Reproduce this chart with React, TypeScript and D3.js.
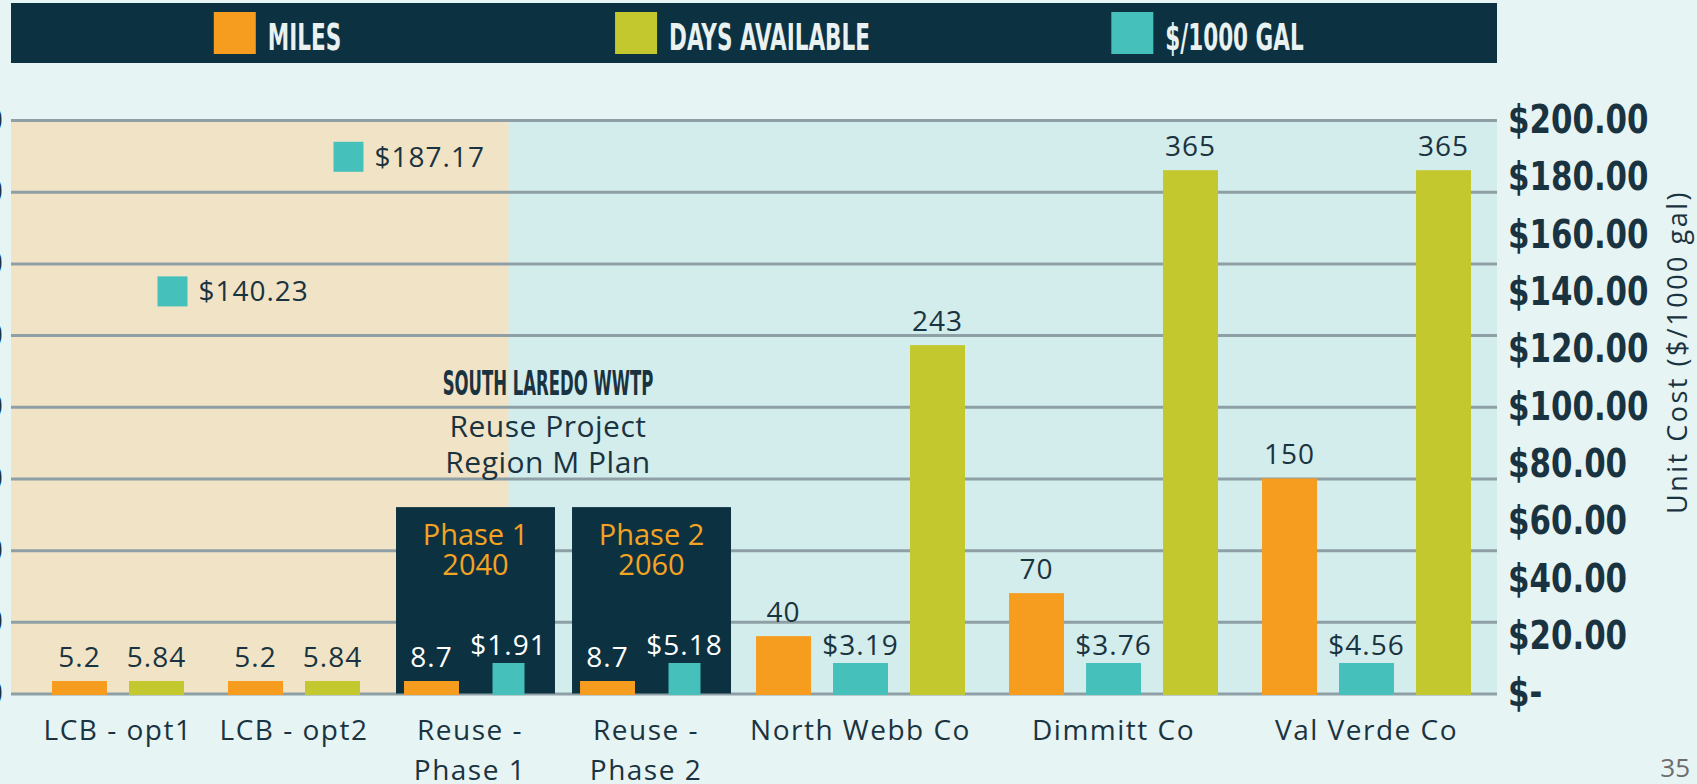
import React, { useEffect, useRef } from 'react';
import * as d3 from 'd3';

// chart data
const categories = ['LCB - opt1', 'LCB - opt2', 'Reuse - Phase 1', 'Reuse - Phase 2', 'North Webb Co', 'Dimmitt Co', 'Val Verde Co'];
const categoryLines = [['LCB - opt1'], ['LCB - opt2'], ['Reuse -', 'Phase 1'], ['Reuse -', 'Phase 2'], ['North Webb Co'], ['Dimmitt Co'], ['Val Verde Co']];
const miles = [5.2, 5.2, 8.7, 8.7, 40, 70, 150];
const daysAvailable: (number | null)[] = [5.84, 5.84, null, null, 243, 365, 365];
const costPer1000Gal = [140.23, 187.17, 1.91, 5.18, 3.19, 3.76, 4.56];

const leftTicks = [0, 50, 100, 150, 200, 250, 300, 350, 400];
const rightTicks = [0, 20, 40, 60, 80, 100, 120, 140, 160, 180, 200];

const legendLabels = ['MILES', 'DAYS AVAILABLE', '$/1000 GAL'];
const phaseBoxes = [
  { category: 'Reuse - Phase 1', lines: ['Phase 1', '2040'] },
  { category: 'Reuse - Phase 2', lines: ['Phase 2', '2060'] },
];
const noteTitle = 'SOUTH LAREDO WWTP';
const noteLines = ['Reuse Project', 'Region M Plan'];
const yRightTitle = 'Unit Cost ($/1000 gal)';
const pageNumber = '35';
const markerThreshold = 100; // costs above this are shown as a marker, not a bar
const phaseBoxTop = 130; // miles-axis level of the top of the phase boxes

const W = 1697;
const H = 784;

const colors = {
  bg: '#e7f4f4',
  plotBg: '#d3ecec',
  beige: '#f1e3c6',
  grid: '#8e9fa5',
  navy: '#0c3242',
  orange: '#f69c1f',
  olive: '#c3c82f',
  teal: '#46c0bb',
  text: '#1a3340',
  phase: '#f5a323',
  legendText: '#e9f1f1',
  page: '#6d6d6d',
};

const condensed = "'Liberation Sans Narrow', 'DejaVu Sans Condensed', 'Arial Narrow', sans-serif";
const sans = "'Open Sans', 'Noto Sans', sans-serif";

const App = () => {
  const svgRef = useRef<SVGSVGElement>(null);

  useEffect(() => {
    const plot = { left: 11, right: 1497, top: 120, base: 693.5 };
    const barsLeft = 52;
    const barsRight = 1471;
    const barUnits = 0.714;
    const groupGap = 0.286;
    const axisSqueeze = 0.88;
    const legendSqueeze = 0.63;
    const noteSqueeze = 0.54;

    const svg = d3.select(svgRef.current);
    svg.selectAll('*').remove();

    const series = [
      { key: 'miles', values: miles as (number | null)[], color: colors.orange, axis: 'left', minH: 14, pad: 14, fmt: (v: number) => String(v) },
      { key: 'cost', values: costPer1000Gal as (number | null)[], color: colors.teal, axis: 'right', minH: 32, pad: 8, fmt: (v: number) => d3.format('$.2f')(v) },
      { key: 'days', values: daysAvailable, color: colors.olive, axis: 'left', minH: 14, pad: 14, fmt: (v: number) => String(v) },
    ];
    const legendSeries = [series[0], series[2], series[1]];

    // lay bars out one unit apart, with a small gap between categories
    type Slot = { cat: number; s: (typeof series)[number]; value: number; pos: number };
    const slots: Slot[] = [];
    const markers: Slot[] = [];
    const groups: { cat: number; start: number; end: number }[] = [];
    let pos = 0;
    categories.forEach((_, i) => {
      const start = pos;
      series.forEach((s) => {
        const v = s.values[i];
        if (v == null) return;
        if (s.key === 'cost' && v > markerThreshold) {
          markers.push({ cat: i, s, value: v, pos: -1 });
          return;
        }
        slots.push({ cat: i, s, value: v, pos });
        pos += 1;
      });
      groups.push({ cat: i, start, end: pos - 1 + barUnits });
      pos += groupGap;
    });
    const lastEnd = groups[groups.length - 1].end;

    const x = d3.scaleLinear().domain([0, lastEnd]).range([barsLeft, barsRight]);
    const unit = x(1) - x(0);
    const barW = unit * barUnits;
    const yLeft = d3.scaleLinear().domain([0, 400]).range([plot.base, plot.top]);
    const yRight = d3.scaleLinear().domain([0, 200]).range([plot.base, plot.top]);
    const yOf = (s: (typeof series)[number]) => (s.axis === 'left' ? yLeft : yRight);

    const inBox = (cat: number) => phaseBoxes.some((b) => b.category === categories[cat]);

    // page background
    svg.append('rect').attr('width', W).attr('height', H).attr('fill', colors.bg);

    // legend bar
    svg.append('rect').attr('x', plot.left).attr('y', 3).attr('width', plot.right - plot.left).attr('height', 60).attr('fill', colors.navy);
    const legendX = d3.scalePoint<string>().domain(legendLabels).range([45, 1440]).padding(0.5);
    legendSeries.forEach((s, i) => {
      const g = svg.append('g');
      const t = g
        .append('text')
        .attr('font-family', condensed)
        .attr('font-weight', 700)
        .attr('font-size', 38)
        .attr('fill', colors.legendText)
        .text(legendLabels[i]);
      const tw = (t.node() as SVGTextElement).getComputedTextLength() * legendSqueeze;
      const total = 42 + 12 + tw;
      const x0 = (legendX(legendLabels[i]) as number) - total / 2;
      g.append('rect').attr('x', x0).attr('y', 12).attr('width', 42).attr('height', 42).attr('fill', s.color);
      t.attr('transform', `translate(${x0 + 54},50) scale(${legendSqueeze},1)`);
    });

    // plot backgrounds
    svg.append('rect').attr('x', plot.left).attr('y', plot.top).attr('width', plot.right - plot.left).attr('height', plot.base - plot.top).attr('fill', colors.plotBg);
    const splitSlot = slots.find((d) => d.cat === 2 && d.s.key === 'cost') as Slot;
    const splitX = x(splitSlot.pos) + barW / 2;
    svg.append('rect').attr('x', plot.left).attr('y', plot.top).attr('width', splitX - plot.left).attr('height', plot.base - plot.top).attr('fill', colors.beige);

    // gridlines + (clipped) left axis labels
    const gl = svg
      .append('g')
      .attr('transform', `translate(${plot.left},0)`)
      .call(d3.axisLeft(yLeft).tickValues(leftTicks).tickSize(-(plot.right - plot.left)).tickPadding(8).tickFormat(d3.format('d')));
    gl.select('.domain').remove();
    gl.selectAll('.tick line').attr('stroke', colors.grid).attr('stroke-width', 3);
    gl.selectAll('.tick text').attr('fill', colors.text).attr('font-family', condensed).attr('font-weight', 700).attr('font-size', 38);

    // phase boxes
    phaseBoxes.forEach((b) => {
      const grp = groups.find((g) => categories[g.cat] === b.category)!;
      const bx0 = x(grp.start) - 8;
      const bx1 = x(grp.end) + 19;
      const by = yLeft(phaseBoxTop);
      svg.append('rect').attr('x', bx0).attr('y', by).attr('width', bx1 - bx0).attr('height', plot.base - by).attr('fill', colors.navy);
      b.lines.forEach((line, k) => {
        svg
          .append('text')
          .attr('x', (bx0 + bx1) / 2)
          .attr('y', by + 38 + k * 30)
          .attr('text-anchor', 'middle')
          .attr('font-family', sans)
          .attr('font-size', 29)
          .attr('fill', colors.phase)
          .text(line);
      });
    });

    // bars
    const barBottom = plot.base + 1.5;
    const barGeom = (d: Slot) => {
      const narrow = d.s.key === 'cost' && inBox(d.cat);
      const w = narrow ? 32 : barW;
      const cx = x(d.pos) + barW / 2;
      const top = Math.min(yOf(d.s)(d.value), barBottom - d.s.minH);
      return { x: cx - w / 2, w, cx, top };
    };
    svg
      .append('g')
      .selectAll('rect')
      .data(slots)
      .join('rect')
      .attr('x', (d) => barGeom(d).x)
      .attr('y', (d) => barGeom(d).top)
      .attr('width', (d) => barGeom(d).w)
      .attr('height', (d) => barBottom - barGeom(d).top)
      .attr('fill', (d) => d.s.color);

    // value labels
    svg
      .append('g')
      .selectAll('text')
      .data(slots)
      .join('text')
      .attr('x', (d) => barGeom(d).cx)
      .attr('y', (d) => barGeom(d).top - d.s.pad)
      .attr('text-anchor', 'middle')
      .attr('font-family', sans)
      .attr('font-size', 28)
      .attr('letter-spacing', 1)
      .attr('fill', (d) => (inBox(d.cat) ? '#ffffff' : colors.text))
      .text((d) => d.s.fmt(d.value));

    // high-cost markers
    markers.forEach((m) => {
      const ref = slots.filter((d) => d.cat === m.cat);
      const last = ref[ref.length - 1];
      const cx = x(last.pos) + barW / 2 + 16;
      const cy = yRight(m.value);
      svg.append('rect').attr('x', cx - 15).attr('y', cy - 15).attr('width', 30).attr('height', 30).attr('fill', colors.teal);
      svg
        .append('text')
        .attr('x', cx + 26)
        .attr('y', cy)
        .attr('dy', '0.36em')
        .attr('font-family', sans)
        .attr('font-size', 28)
        .attr('letter-spacing', 1)
        .attr('fill', colors.text)
        .text(m.s.fmt(m.value));
    });

    // category labels
    groups.forEach((g) => {
      const cx = (x(g.start) + x(g.end)) / 2;
      categoryLines[g.cat].forEach((line, k) => {
        svg
          .append('text')
          .attr('x', cx)
          .attr('y', 740 + k * 40)
          .attr('text-anchor', 'middle')
          .attr('font-family', sans)
          .attr('font-size', 28)
          .attr('letter-spacing', 1.5)
          .attr('fill', colors.text)
          .text(line);
      });
    });

    // annotation above the two phase boxes
    const reuse = groups.filter((g) => inBox(g.cat));
    const noteX = (x(reuse[0].start) + x(reuse[reuse.length - 1].end)) / 2 - 10;
    svg
      .append('text')
      .attr('transform', `translate(${noteX},395) scale(${noteSqueeze},1)`)
      .attr('text-anchor', 'middle')
      .attr('font-family', condensed)
      .attr('font-weight', 700)
      .attr('font-size', 34)
      .attr('fill', colors.text)
      .text(noteTitle);
    noteLines.forEach((line, k) => {
      svg
        .append('text')
        .attr('x', noteX)
        .attr('y', 437 + k * 36)
        .attr('text-anchor', 'middle')
        .attr('font-family', sans)
        .attr('font-size', 30)
        .attr('letter-spacing', 0.5)
        .attr('fill', colors.text)
        .text(line);
    });

    // right axis
    const gr = svg
      .append('g')
      .attr('transform', `translate(${plot.right},0)`)
      .call(
        d3
          .axisRight(yRight)
          .tickValues(rightTicks)
          .tickSize(0)
          .tickPadding(11)
          .tickFormat((v) => (+v === 0 ? '$-' : d3.format('$.2f')(+v)))
      );
    gr.select('.domain').remove();
    gr.selectAll('.tick text')
      .attr('x', 11 / axisSqueeze)
      .attr('transform', `scale(${axisSqueeze},1)`)
      .attr('fill', colors.text)
      .attr('font-family', condensed)
      .attr('font-weight', 700)
      .attr('font-size', 39);

    svg
      .append('text')
      .attr('transform', 'translate(1676,352) rotate(-90)')
      .attr('text-anchor', 'middle')
      .attr('dominant-baseline', 'central')
      .attr('font-family', sans)
      .attr('font-size', 27)
      .attr('letter-spacing', 2.5)
      .attr('fill', colors.text)
      .text(yRightTitle);

    svg
      .append('text')
      .attr('x', 1690)
      .attr('y', 777)
      .attr('text-anchor', 'end')
      .attr('font-family', sans)
      .attr('font-size', 26)
      .attr('fill', colors.page)
      .text(pageNumber);
  }, []);

  return (
    <div style={{ position: 'absolute', left: 0, top: 0 }}>
      <svg ref={svgRef} width={W} height={H} style={{ display: 'block' }} />
    </div>
  );
};

export default App;
